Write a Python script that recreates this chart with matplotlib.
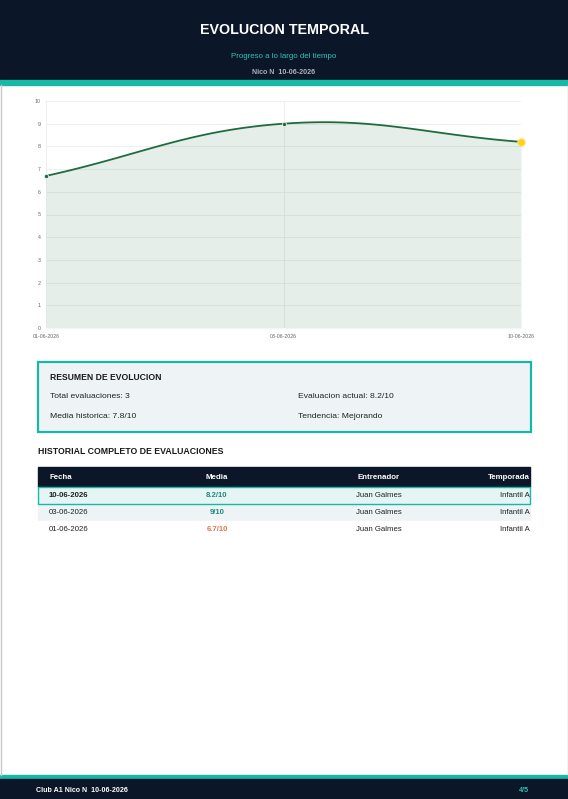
import numpy as np
import matplotlib
matplotlib.use('Agg')
import matplotlib.pyplot as plt
from matplotlib.patches import Rectangle

plt.rcParams['font.family'] = ['Liberation Sans', 'DejaVu Sans']

# Chart data
dates = ['01-06-2026', '03-06-2026', '10-06-2026']
scores = [6.7, 9, 8.2]

# Summary
summary_left = ['Total evaluaciones: 3', 'Media historica: 7.8/10']
summary_right = ['Evaluacion actual: 8.2/10', 'Tendencia: Mejorando']

# Table
table_cols = ['Fecha', 'Media', 'Entrenador', 'Temporada']
table_fecha = ['10-06-2026', '03-06-2026', '01-06-2026']
table_media = ['8.2/10', '9/10', '6.7/10']
table_coach = ['Juan Galmes', 'Juan Galmes', 'Juan Galmes']
table_season = ['Infantil A', 'Infantil A', 'Infantil A']

NAVY = '#0b1628'
TEAL = '#17b8a6'
W, H = 568, 799

fig = plt.figure(figsize=(W / 100, H / 100), dpi=100)
bg = fig.add_axes([0, 0, 1, 1])
bg.set_xlim(0, W)
bg.set_ylim(H, 0)
bg.axis('off')

# Header
bg.add_patch(Rectangle((0, 0), W, 80, color=NAVY, zorder=1))
bg.add_patch(Rectangle((0, 80), W, 5, color=TEAL, zorder=1))
bg.text(W / 2, 30, 'EVOLUCION TEMPORAL', color='white', fontsize=10.3,
        fontweight='bold', ha='center', va='center')
bg.text(W / 2, 56, 'Progreso a lo largo del tiempo', color='#2ec4b6',
        fontsize=5.7, ha='center', va='center')
bg.text(W / 2, 73, 'Nico N  10-06-2026', color='#aab1bd', fontsize=5.1,
        fontweight='bold', ha='center', va='center')

# page borders
bg.plot([0.5, 0.5], [85, 775], color='#c8c8c8', lw=1)
bg.plot([567.5, 567.5], [85, 775], color='#c8c8c8', lw=1)

# Line chart
x0, x1, ytop, ybot = 46, 521, 101, 328
ax = fig.add_axes([x0 / W, 1 - ybot / H, (x1 - x0) / W, (ybot - ytop) / H])
xs = np.arange(len(dates))
ax.set_xlim(0, len(dates) - 1)
ax.set_ylim(0, 10)

# Chart.js style bezier spline (tension 0.4), computed in pixel space
sx = (x1 - x0) / (len(dates) - 1)
sy = (ybot - ytop) / 10.0
px = xs * sx
py = np.array(scores) * sy
t = 0.4
curve_x, curve_y = [], []
cps = []
for i in range(len(px)):
    prev = np.array([px[max(i - 1, 0)], py[max(i - 1, 0)]])
    cur = np.array([px[i], py[i]])
    nxt = np.array([px[min(i + 1, len(px) - 1)], py[min(i + 1, len(px) - 1)]])
    d01 = np.hypot(*(cur - prev))
    d12 = np.hypot(*(nxt - cur))
    tot = d01 + d12
    s01 = d01 / tot if tot else 0
    s12 = d12 / tot if tot else 0
    cp_prev = cur - t * s01 * (nxt - prev)
    cp_next = cur + t * s12 * (nxt - prev)
    cps.append((cp_prev, cp_next))
u = np.linspace(0, 1, 60)
for i in range(len(px) - 1):
    p0 = np.array([px[i], py[i]])
    p3 = np.array([px[i + 1], py[i + 1]])
    p1 = cps[i][1]
    p2 = cps[i + 1][0]
    bx = (1 - u) ** 3 * p0[0] + 3 * (1 - u) ** 2 * u * p1[0] + 3 * (1 - u) * u ** 2 * p2[0] + u ** 3 * p3[0]
    by = (1 - u) ** 3 * p0[1] + 3 * (1 - u) ** 2 * u * p1[1] + 3 * (1 - u) * u ** 2 * p2[1] + u ** 3 * p3[1]
    curve_x.extend(bx / sx)
    curve_y.extend(by / sy)

ax.fill_between(curve_x, 0, curve_y, color='#1e6b3e', alpha=0.11, lw=0, zorder=1)
ax.plot(curve_x, curve_y, color='#1e6b3e', lw=1.3, zorder=3)
ax.scatter(xs[:-1], scores[:-1], s=9, color='#1e6b3e', edgecolor='white',
           linewidth=0.5, zorder=4, clip_on=False)
ax.scatter(xs[-1:], scores[-1:], s=30, color='#ffd21a', edgecolor='#ffe680',
           linewidth=0.6, zorder=4, clip_on=False)

ax.set_xticks(xs)
ax.set_xticklabels(dates)
ax.set_yticks(range(0, 11))
ax.grid(True, color='#ececec', lw=0.6, zorder=0)
ax.set_axisbelow(True)
for s in ax.spines.values():
    s.set_visible(False)
ax.tick_params(length=0, labelsize=3.8, colors='#666666', pad=4)
ax.patch.set_alpha(0)

# Summary box
bg.add_patch(Rectangle((38, 362), 493, 70, facecolor='#eef3f6', edgecolor=TEAL,
                       lw=1.6, zorder=1))
bg.text(50, 378, 'RESUMEN DE EVOLUCION', fontsize=6.2, fontweight='bold',
        color='#1a1a1a', va='center')
for i, txt in enumerate(summary_left):
    bg.text(50, 397 + i * 19, txt, fontsize=6.1, color='#222222', va='center')
for i, txt in enumerate(summary_right):
    bg.text(298, 397 + i * 19, txt, fontsize=6.1, color='#222222', va='center')

# History table
bg.text(38, 451, 'HISTORIAL COMPLETO DE EVALUACIONES', fontsize=6.3,
        fontweight='bold', color='#1a1a1a', va='center')
tx0, tx1 = 38, 530
bg.add_patch(Rectangle((tx0, 467), tx1 - tx0, 20, color=NAVY, zorder=1))
col_x = [49, 217, 379, 530]
col_ha = ['left', 'center', 'center', 'right']
for c, xx, ha in zip(table_cols, col_x, col_ha):
    bg.text(xx, 477.5, c, fontsize=5.7, fontweight='bold', color='white',
            ha=ha, va='center', zorder=3)

row_top = [487, 503.5, 520.5]
row_h = [16.5, 17, 17.5]
row_bg = ['#e4f5f3', '#eef3f6', 'white']
media_colors = ['#1f8a80', '#1f8a80', '#e0784a']
for i in range(len(table_fecha)):
    if i == 0:
        bg.add_patch(Rectangle((tx0, row_top[i]), tx1 - tx0, row_h[i],
                               facecolor=row_bg[i], edgecolor=TEAL, lw=1, zorder=2))
    else:
        bg.add_patch(Rectangle((tx0, row_top[i]), tx1 - tx0, row_h[i],
                               color=row_bg[i], zorder=1))
    yc = row_top[i] + row_h[i] / 2
    bg.text(col_x[0], yc, table_fecha[i], fontsize=5.6, color='#222222',
            fontweight='bold' if i == 0 else 'normal', va='center', zorder=3)
    bg.text(col_x[1], yc, table_media[i], fontsize=5.6, color=media_colors[i],
            fontweight='bold', ha='center', va='center', zorder=3)
    bg.text(col_x[2], yc, table_coach[i], fontsize=5.6, color='#222222',
            ha='center', va='center', zorder=3)
    bg.text(col_x[3], yc, table_season[i], fontsize=5.6, color='#222222',
            ha='right', va='center', zorder=3)

# Footer
bg.add_patch(Rectangle((0, 775), W, 4, color=TEAL, zorder=1))
bg.add_patch(Rectangle((0, 779), W, 20, color=NAVY, zorder=1))
bg.text(36, 790, 'Club A1 Nico N  10-06-2026', fontsize=5.1, fontweight='bold',
        color='white', va='center')
bg.text(529, 790, '4/5', fontsize=5.1, fontweight='bold', color='#2ec4b6',
        ha='right', va='center')

fig.savefig('out.png', dpi=100)
